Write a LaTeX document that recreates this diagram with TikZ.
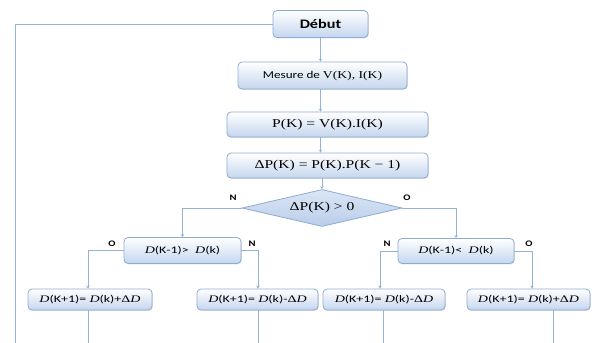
\documentclass[tikz,border=0pt]{standalone}
\usepackage{fontspec}
\setmainfont{Carlito}
\newfontfamily\sfx{Carlito}[FakeStretch=1.25]
\newfontfamily\rmx{Liberation Serif}[FakeStretch=1.3]
\newfontfamily\sfl{Carlito}[FakeStretch=1.4]
\newfontfamily\rml{Liberation Serif}[FakeStretch=1.4]
\usetikzlibrary{arrows.meta,shapes.geometric,shadows}
\definecolor{bord}{HTML}{8EAAD6}
\definecolor{boxb}{HTML}{C4D6EE}
\definecolor{diab}{HTML}{B9CDE9}
\definecolor{linec}{HTML}{95B3D7}
\begin{document}
\begin{tikzpicture}[x=1pt,y=-1pt,
  box/.style={draw=bord, line width=0.8pt, rounded corners=4pt, top color=white,
    bottom color=boxb, inner sep=0pt,
    drop shadow={shadow xshift=0.8pt, shadow yshift=-0.8pt, opacity=0.25, fill=gray}},
  dia/.style={diamond, draw=bord, line width=0.8pt, top color=boxb!60, bottom color=diab,
    inner sep=0pt, aspect=4.3, minimum width=160pt, minimum height=37pt},
  conn/.style={draw=linec, line width=0.9pt},
  arr/.style={conn, -{Stealth[length=3pt,width=3.5pt]}},
  lab/.style={font=\sfx\bfseries\fontsize{8.5}{8.5}\selectfont, inner sep=0pt},
  low/.style={box, minimum height=21pt}
]
\useasboundingbox (0,0) rectangle (595,343);
\fill[white] (0,0) rectangle (595,343);

\node[box, minimum width=95pt, minimum height=27pt] (debut) at (320.5,24)
  {\sfx\bfseries\fontsize{13}{13}\selectfont Début};
\node[box, minimum width=169pt, minimum height=27pt] (mesure) at (322.5,75.5)
  {\sfx\fontsize{10.5}{10.5}\selectfont Mesure de {\rmx V(K), I(K)}};
\node[box, minimum width=201pt, minimum height=25pt] (p) at (327.5,124.5)
  {\rmx\fontsize{12}{12}\selectfont P(K) = V(K).I(K)};
\node[box, minimum width=201pt, minimum height=25pt] (dp) at (327.5,165.5)
  {\rmx\fontsize{12}{12}\selectfont ΔP(K) = P(K).P(K − 1)};
\node[dia] (dia) at (322,208)
  {\rmx\fontsize{12}{12}\selectfont ΔP(K) > 0};

\node[box, minimum width=117pt, minimum height=26pt] (ld) at (182.5,250.5)
  {\sfl\fontsize{10}{10}\selectfont {\rml\itshape D}(K-1)>\ \ {\rml\itshape D}(k)};
\node[box, minimum width=116pt, minimum height=25pt] (rd) at (456,251)
  {\sfl\fontsize{10}{10}\selectfont {\rml\itshape D}(K-1)<\ \ {\rml\itshape D}(k)};

\node[low, minimum width=124pt] (b1) at (90,299.5)
  {\sfl\fontsize{10}{10}\selectfont {\rml\itshape D}(K+1)= {\rml\itshape D}(k)+{\rml Δ\itshape D}};
\node[low, minimum width=121pt] (b2) at (257.5,299.5)
  {\sfl\fontsize{10}{10}\selectfont {\rml\itshape D}(K+1)= {\rml\itshape D}(k)-{\rml Δ\itshape D}};
\node[low, minimum width=122pt] (b3) at (384,299.5)
  {\sfl\fontsize{10}{10}\selectfont {\rml\itshape D}(K+1)= {\rml\itshape D}(k)-{\rml Δ\itshape D}};
\node[low, minimum width=123pt] (b4) at (528.5,299.5)
  {\sfl\fontsize{10}{10}\selectfont {\rml\itshape D}(K+1)= {\rml\itshape D}(k)+{\rml Δ\itshape D}};

\node[lab] (lN) at (233,198) {N};
\node[lab] (lO) at (407,198) {O};
\node[lab] (l1) at (112,244) {O};
\node[lab] (l2) at (252,244) {N};
\node[lab] (l3) at (387,244) {N};
\node[lab] (l4) at (529,244) {O};

% main column
\draw[arr] (debut.south) -- (mesure.north -| debut.south);
\draw[arr] (mesure.south -| debut.south) -- (p.north -| debut.south);
\draw[arr] (p.south -| debut.south) -- (dp.north -| debut.south);
\draw[arr] (dp.south -| dia.north) -- (dia.north);

% diamond branches
\draw[arr] (dia.west) -| (ld.north);
\draw[arr] (dia.east) -| (rd.north);

% column positions
\coordinate (x1) at (88,0);
\coordinate (x2) at (258,0);
\coordinate (x3) at (380,0);
\coordinate (x4) at (532,0);
\draw[arr] (ld.west) -| (x1 |- b1.north);
\draw[arr] (ld.east) -| (x2 |- b2.north);
\draw[arr] (rd.west) -| (x3 |- b3.north);
\draw[arr] (rd.east) -| (x4 |- b4.north);

% outgoing lines
\coordinate (e1) at (88,343);
\coordinate (e2) at (258,343);
\coordinate (e3) at (383,343);
\coordinate (e4) at (553,343);
\draw[conn] (b1.south -| e1) -- (e1);
\draw[conn] (b2.south -| e2) -- (e2);
\draw[conn] (b3.south -| e3) -- (e3);
\draw[conn] (b4.south -| e4) -- (e4);

% loop back
\coordinate (loopend) at (15,343);
\draw[conn] (debut.west) -| (loopend);
\end{tikzpicture}
\end{document}
